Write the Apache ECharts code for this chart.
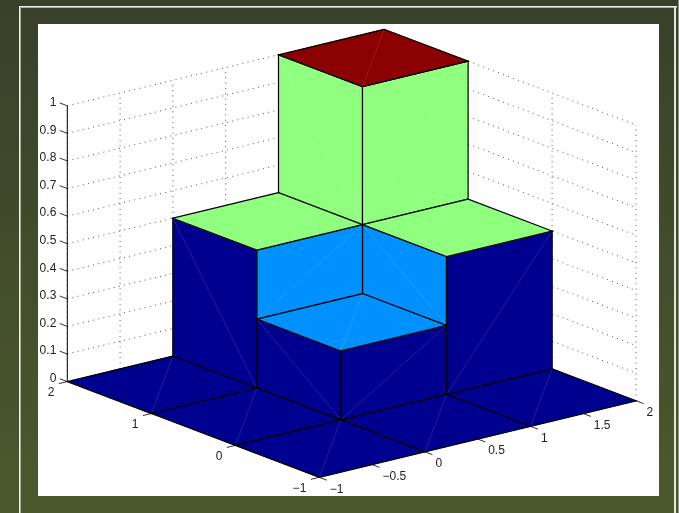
<!DOCTYPE html>
<html>
<head>
<meta charset="utf-8">
<title>surface</title>
<script src="https://cdn.jsdelivr.net/npm/echarts@6/dist/echarts.min.js"></script>
<style>
html,body{margin:0;padding:0;background:#3f4a2a;}
#main{width:679px;height:513px;}
</style>
</head>
<body>
<div id="main"></div>
<script>
// cell edges and surface heights, rows go from low v to high v
var uEdges = [-1, 0, 1, 2];
var vEdges = [-1, 0, 1, 2];
var heights = [
	[0, 0, 0],
	[0, 0.25, 0.5],
	[0, 0.5, 1]
];

var zTicks = [0, 0.1, 0.2, 0.3, 0.4, 0.5, 0.6, 0.7, 0.8, 0.9, 1];
var zLabels = ['0', '0.1', '0.2', '0.3', '0.4', '0.5', '0.6', '0.7', '0.8', '0.9', '1'];
var uTicks = [-1, -0.5, 0, 0.5, 1, 1.5, 2];
var uLabels = ['\u22121', '\u22120.5', '0', '0.5', '1', '1.5', '2'];
var vTicks = [-1, 0, 1, 2];
var vLabels = ['\u22121', '0', '1', '2'];

var levels = [0, 0.25, 0.5, 1];
var levelColors = ['#00008f', '#0090ff', '#90ff80', '#8b0000'];

var LABEL_FONT = '12px "Liberation Sans", Arial, sans-serif';
var LINE_BLACK = '#000';

function levelColor(z){
	return levelColors[levels.indexOf(z)];
}

// fixed 3d view, returns the value pair for the hidden 2d axes
function project(u, v, z){
	return [
		(u + 1) * 105.6 - (v + 1) * 84,
		(u + 1) * 25.5 + (v + 1) * 31.9 + z * 275.8
	];
}

function line(api, a, b, style){
	var p = api.coord(project(a[0], a[1], a[2]));
	var q = api.coord(project(b[0], b[1], b[2]));
	return {
		type: 'line',
		shape: {x1: p[0], y1: p[1], x2: q[0], y2: q[1]},
		style: style
	};
}

function label(text, pos, align){
	return {
		type: 'text',
		style: {
			text: text, x: pos[0], y: pos[1], align: align, verticalAlign: 'middle',
			font: LABEL_FONT, fill: '#222'
		}
	};
}

// one face: fill, faint diagonal, black outline
function face(api, corners, diagFrom, diagTo, color){
	var pts = corners.map(function(c){
		return api.coord(project(c[0], c[1], c[2]));
	});
	return [
		{type: 'polygon', shape: {points: pts}, style: {fill: color, stroke: color, lineWidth: 0.5}},
		line(api, corners[diagFrom], corners[diagTo], {stroke: 'rgba(255,255,255,0.25)', lineWidth: 0.5}),
		{type: 'polygon', shape: {points: pts}, style: {fill: 'none', stroke: LINE_BLACK, lineWidth: 1.2}}
	];
}

function renderBox(params, api){
	var kids = [];
	var dotted = {stroke: '#555', lineWidth: 1, lineDash: [1, 4.3]};
	var tickStyle = {stroke: '#000', lineWidth: 0.8};
	zTicks.forEach(function(z){
		kids.push(line(api, [-1, 2, z], [2, 2, z], dotted));
		kids.push(line(api, [2, 2, z], [2, -1, z], dotted));
	});
	uTicks.forEach(function(u){
		kids.push(line(api, [u, 2, 0], [u, 2, 1], dotted));
	});
	vTicks.forEach(function(v){
		kids.push(line(api, [2, v, 0], [2, v, 1], dotted));
	});
	kids.push(line(api, [-1, 2, 0], [-1, 2, 1], {stroke: LINE_BLACK, lineWidth: 1}));
	zTicks.forEach(function(z, i){
		kids.push(line(api, [-1, 2, z], [-1, 2.09, z], tickStyle));
		var p = api.coord(project(-1, 2, z));
		kids.push(label(zLabels[i], [p[0] - 11, p[1] - 3], 'right'));
	});
	vTicks.forEach(function(v, i){
		kids.push(line(api, [-1, v, 0], [-1.08, v, 0], tickStyle));
		var p = api.coord(project(-1, v, 0));
		kids.push(label(vLabels[i], [p[0] - 13, p[1] + 11], 'right'));
	});
	uTicks.forEach(function(u, i){
		kids.push(line(api, [u, -1, 0], [u, -1.09, 0], tickStyle));
		var p = api.coord(project(u, -1, 0));
		kids.push(label(uLabels[i], [p[0] + 10.5, p[1] + 12], 'left'));
	});
	return {type: 'group', children: kids};
}

function renderCell(params, api){
	var i = api.value(0), j = api.value(1);
	var u0 = uEdges[i], u1 = uEdges[i + 1], v0 = vEdges[j], v1 = vEdges[j + 1];
	var h = heights[j][i];
	var kids = [];
	// walls towards the viewer come first, the lower height gives their colour
	if(i > 0 && heights[j][i - 1] < h){
		var hu = heights[j][i - 1];
		kids = kids.concat(face(api, [[u0, v1, h], [u0, v0, h], [u0, v0, hu], [u0, v1, hu]], 0, 2, levelColor(hu)));
	}
	if(j > 0 && heights[j - 1][i] < h){
		var hv = heights[j - 1][i];
		kids = kids.concat(face(api, [[u0, v0, hv], [u1, v0, hv], [u1, v0, h], [u0, v0, h]], 0, 2, levelColor(hv)));
	}
	kids = kids.concat(face(api, [[u1, v1, h], [u0, v1, h], [u0, v0, h], [u1, v0, h]], 0, 2, levelColor(h)));
	return {type: 'group', children: kids};
}

// back to front
var cells = [];
for(var i = heights[0].length - 1; i >= 0; i--){
	for(var j = heights.length - 1; j >= 0; j--){
		cells.push([i, j]);
	}
}

var myChart = echarts.init(document.getElementById('main'));
var option = {
	animation: false,
	backgroundColor: new echarts.graphic.LinearGradient(0, 0, 0, 1, [
		{offset: 0, color: '#39402a'},
		{offset: 1, color: '#4a5a2d'}
	]),
	grid: {left: 38, top: 24, width: 621, height: 472, show: true, backgroundColor: '#fff', borderWidth: 0},
	xAxis: {type: 'value', min: -281.3, max: 339.7, show: false},
	yAxis: {type: 'value', min: -18.7, max: 453.3, show: false},
	graphic: [
		{type: 'rect', shape: {x: 19, y: 6, width: 658, height: 1}, style: {fill: '#eef0ea'}},
		{type: 'rect', shape: {x: 19, y: 7, width: 658, height: 1}, style: {fill: '#a9ad9e'}},
		{type: 'rect', shape: {x: 19, y: 6, width: 1, height: 507}, style: {fill: '#eef0ea'}},
		{type: 'rect', shape: {x: 20, y: 7, width: 1, height: 506}, style: {fill: '#a9ad9e'}},
		{type: 'rect', shape: {x: 674, y: 6, width: 2, height: 507}, style: {fill: '#e4e6de'}},
		{type: 'rect', shape: {x: 678, y: 0, width: 1, height: 513}, style: {fill: '#8e9484'}}
	],
	series: [
		{type: 'custom', coordinateSystem: 'cartesian2d', silent: true, clip: false, data: [[0, 0]], renderItem: renderBox},
		{type: 'custom', coordinateSystem: 'cartesian2d', silent: true, clip: false, data: cells, renderItem: renderCell}
	]
};
myChart.setOption(option);
</script>
</body>
</html>
